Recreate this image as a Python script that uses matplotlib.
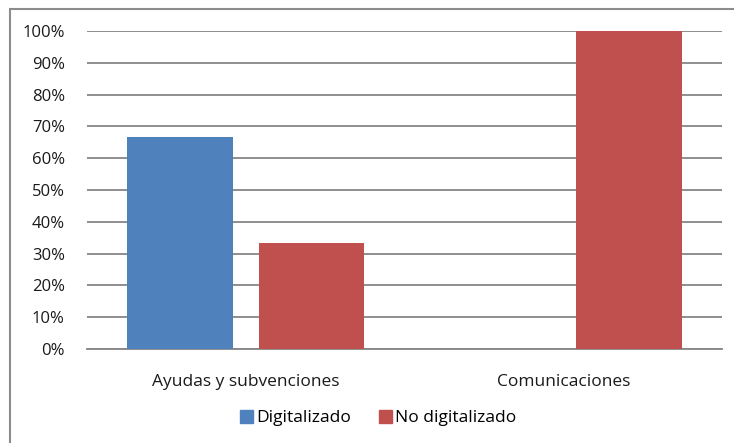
import numpy as np
from matplotlib import pyplot as plt
from matplotlib.patches import Rectangle, Patch

plt.rcParams['font.family'] = ['Open Sans', 'DejaVu Sans']

categories = ['Ayudas y subvenciones', 'Comunicaciones']
digitalizado = [66.7, 0.0]
no_digitalizado = [33.3, 100.0]
series_names = ['Digitalizado', 'No digitalizado']
yticks = [0, 10, 20, 30, 40, 50, 60, 70, 80, 90, 100]

W, H = 734, 443
fig = plt.figure(figsize=(W / 100, H / 100), dpi=100)
ax = fig.add_axes([87 / W, 1 - 349 / H, (722 - 87) / W, (349 - 31) / H])

x = np.arange(len(categories))
width = 0.333
off = 0.207
ax.bar(x - off, digitalizado, width, color='#4F81BD', zorder=3)
ax.bar(x + off, no_digitalizado, width, color='#C0504D', zorder=3)

ax.set_xlim(-0.5, 1.5)
ax.set_ylim(0, 100)
ax.set_yticks(yticks)
ax.set_yticklabels([f'{v}%' for v in yticks], fontsize=12, color='#1a1a1a')
ax.yaxis.grid(True, color='#868686', linewidth=1.3, zorder=0)
ax.set_xticks(x)
ax.set_xticklabels(categories, fontsize=12.5, color='#1a1a1a')
ax.tick_params(axis='y', length=0, pad=16)
ax.tick_params(axis='x', length=0, pad=18)
for s in ['left', 'right', 'top']:
    ax.spines[s].set_visible(False)
ax.spines['bottom'].set_color('#868686')
ax.spines['bottom'].set_linewidth(1.3)

handles = [Patch(color='#4F81BD'), Patch(color='#C0504D')]
fig.legend(handles, series_names, loc='center', bbox_to_anchor=(378 / W, 1 - 418 / H),
           ncol=2, frameon=False, fontsize=12.5, handlelength=0.75, handleheight=0.75,
           handletextpad=0.2, columnspacing=1.6)

fig.patches.append(Rectangle((10 / W, -0.1), 1.2, 1.1 - 9 / H, transform=fig.transFigure,
                             fill=False, edgecolor='#8c8c8c', linewidth=1.5))

fig.savefig('out.png', dpi=100)
